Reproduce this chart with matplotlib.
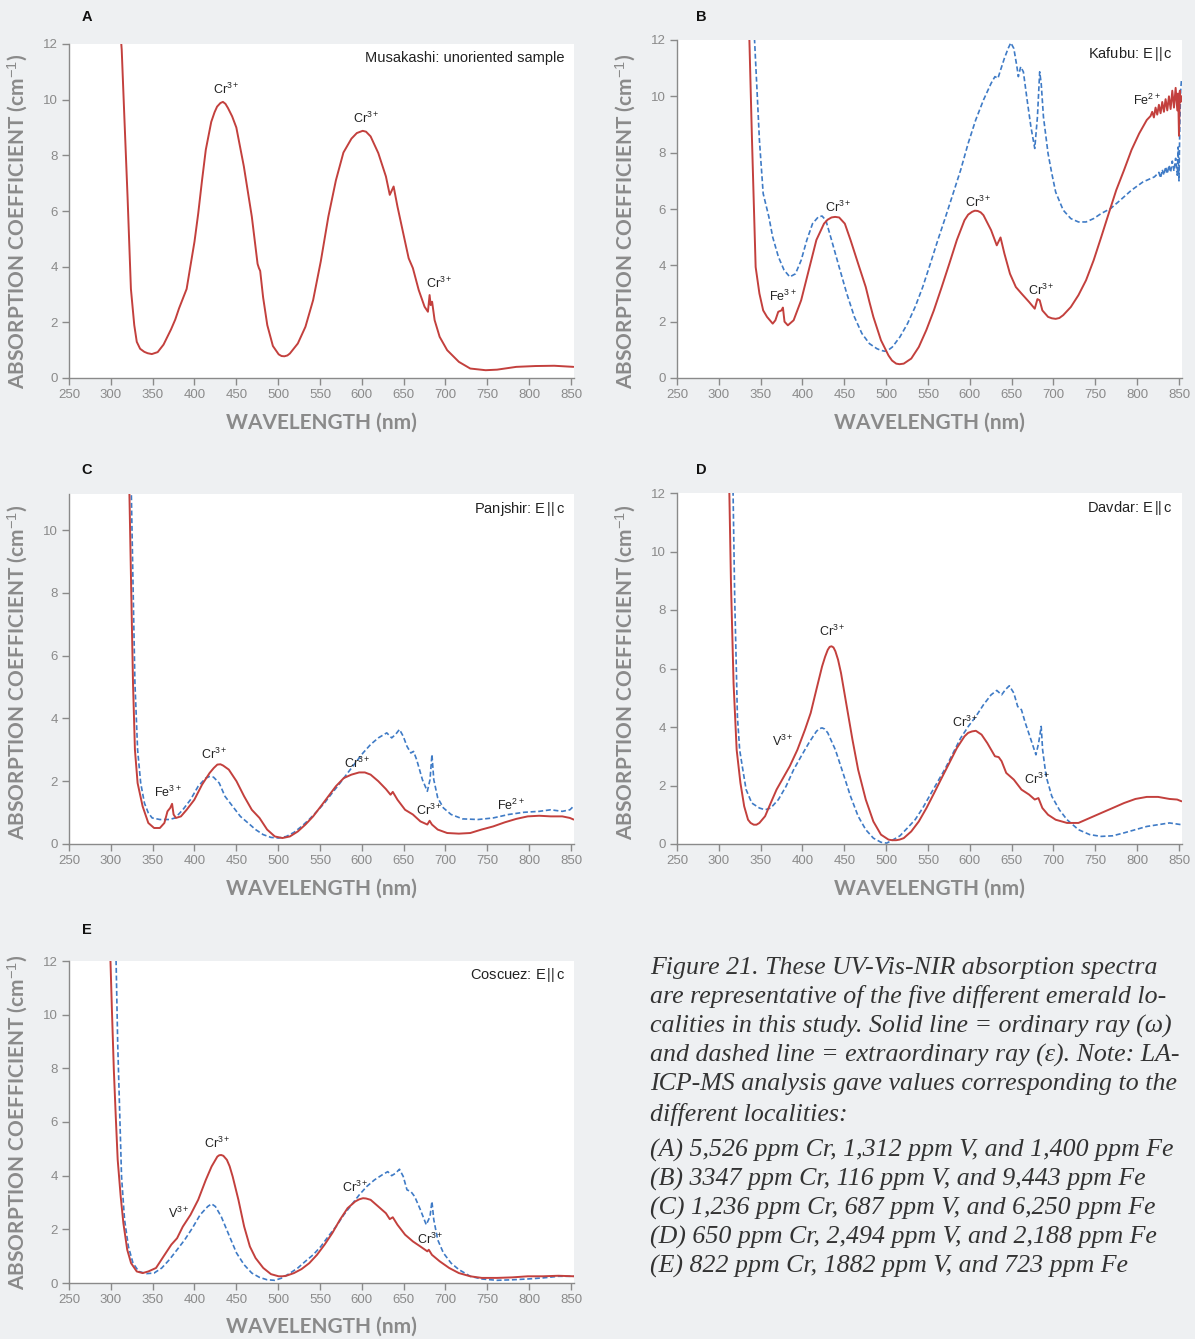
import matplotlib
matplotlib.use("Agg")
import matplotlib.pyplot as plt

# ---- data (wavelength nm, absorption coefficient cm-1) ----
# A  Musakashi (unoriented, single solid trace)
a_wl = [311, 313, 316, 320, 324, 328, 331, 335, 340, 344, 349, 356, 363, 372, 377, 381.5, 390.6, 395,
        400, 404.4, 409, 413.5, 420, 424, 427, 431, 434, 437, 440, 445, 450, 459, 468.5, 475.4, 477,
        478.5, 482, 487, 493.7, 500.6, 504, 507.4, 511, 514, 523.5, 532.6, 541.8, 551, 560, 569, 578,
        587.6, 594, 601, 605, 610.5, 619.7, 628.8, 633.4, 638, 642.6, 649.5, 656, 661, 668, 675, 679,
        681, 682.3, 684, 687, 693, 702, 716, 729.6, 748, 761.7, 784.6, 807.5, 830, 853]
a_red = [12.6, 11.8, 9.5, 6.5, 3.2, 1.9, 1.3, 1.05, 0.94, 0.89, 0.86, 0.93, 1.2, 1.75, 2.1, 2.5, 3.2, 4.0,
         4.9, 5.9, 7.1, 8.2, 9.2, 9.55, 9.75, 9.88, 9.92, 9.85, 9.7, 9.4, 9.0, 7.6, 5.8, 4.1, 3.95,
         3.85, 2.9, 1.9, 1.15, 0.85, 0.79, 0.78, 0.81, 0.88, 1.24, 1.84, 2.8, 4.2, 5.8, 7.1, 8.1,
         8.6, 8.8, 8.88, 8.85, 8.68, 8.08, 7.24, 6.58, 6.88, 6.16, 5.2, 4.3, 3.95, 3.16, 2.56, 2.38,
         2.98, 2.62, 2.74, 2.08, 1.48, 1.0, 0.58, 0.34, 0.28, 0.3, 0.4, 0.43, 0.44, 0.4]

# B  Kafubu
b_red_wl = [336, 339.4, 341.7, 344, 348.5, 353, 357.6, 364.4, 367.6, 371, 374.8, 376.6, 378.5, 382.5,
            389.4, 398.4, 407.5, 416.6, 425.7, 430, 434.7, 439, 443.8, 450.6, 457.4, 466.5, 475.6, 480,
            484.7, 493.8, 502.8, 507, 512, 516, 521, 530, 539, 548, 557, 566.4, 575.5, 584.5, 593.6,
            598, 602.7, 606, 609.5, 613, 616.3, 625.4, 632.2, 636.7, 641.3, 648, 655, 661.7, 670.8,
            677.6, 680.8, 683.5, 686.7, 693.5, 698, 702.6, 707, 711.6, 720.7, 729.8, 738.9, 748, 757,
            766, 775, 784.3, 793.3, 802.4, 811.5,
            816, 818, 820, 822, 824, 826, 828, 830, 832, 834, 836, 838, 840, 842, 844, 846, 848, 849,
            850, 851, 852, 853]
b_red = [12.6, 8.7, 6.3, 3.94, 3.0, 2.4, 2.17, 1.93, 2.05, 2.35, 2.4, 2.5, 2.0, 1.87,
         2.05, 2.76, 3.83, 4.9, 5.48, 5.62, 5.7, 5.72, 5.7, 5.48, 4.9, 4.06, 3.23, 2.7,
         2.17, 1.34, 0.8, 0.62, 0.51, 0.49, 0.51, 0.69, 1.1, 1.7, 2.4, 3.23, 4.06, 4.9, 5.6,
         5.8, 5.9, 5.94, 5.93, 5.88, 5.78, 5.25, 4.71, 4.99, 4.42, 3.7, 3.23, 3.0, 2.7,
         2.46, 2.8, 2.76, 2.4, 2.17, 2.12, 2.1, 2.13, 2.23, 2.52, 2.94, 3.47, 4.18, 5.0,
         5.84, 6.67, 7.38, 8.1, 8.68, 9.16,
         9.3, 9.45, 9.25, 9.6, 9.35, 9.7, 9.4, 9.8, 9.45, 9.9, 9.5, 10.0, 9.55, 10.2, 9.6, 10.3, 9.5, 10.1,
         8.6, 10.2, 9.8, 10.0]
b_blue_wl = [341.7, 346.2, 348.5, 353, 359.8, 364.4, 371.2, 378, 384.8, 391.6, 398.4, 405.2, 412,
             418.9, 423.4, 427.9, 434.7, 443.8, 452.9, 462, 471, 480, 489, 494, 498.3, 503, 507.4, 516.5,
             525.5, 534.6, 543.7, 552.8, 561.8, 571, 580, 589, 598, 607, 616.3, 625.4, 630, 633.6,
             636.7, 641.3, 645.8, 649, 652.6, 656.3, 658, 660.8, 664, 668.5, 673, 677.6, 680.8,
             683.5, 685.3, 688, 693.5, 698, 702.6, 711.6, 720.7, 729.8, 738.9, 748, 757, 768.4,
             779.7, 793.3, 806.9, 820.6, 826, 828, 830, 832, 834, 836, 838, 840, 842, 844, 846, 848,
             849, 850, 851, 852, 853]
b_blue = [12.6, 9.87, 8.45, 6.55, 5.72, 5.0, 4.3, 3.83, 3.59, 3.7, 4.18, 4.9, 5.48,
          5.72, 5.75, 5.6, 4.9, 3.94, 3.0, 2.17, 1.58, 1.22, 1.04, 0.98, 0.95, 1.0, 1.1, 1.46,
          1.93, 2.52, 3.23, 4.06, 4.9, 5.72, 6.55, 7.38, 8.33, 9.16, 9.87, 10.46, 10.7, 10.64,
          10.93, 11.35, 11.7, 11.9, 11.7, 11.05, 10.7, 11.05, 10.87, 9.87, 8.92, 8.15, 9.27,
          10.87, 10.46, 9.27, 7.97, 7.26, 6.6, 5.96, 5.66, 5.54, 5.54, 5.66, 5.84, 6.02,
          6.31, 6.67, 6.96, 7.14, 7.3, 7.1, 7.4, 7.2, 7.5, 7.25, 7.55, 7.3, 7.7, 7.35, 7.8, 7.2,
          8.2, 7.0, 9.0, 10.2, 10.6]

# C  Panjshir
c_red_wl = [321.9, 324.2, 326.5, 328.8, 332, 338, 344.8, 351.7, 358.6, 364, 367.7, 371, 373.2, 375,
            377.8, 383.8, 390.6, 399.8, 409, 418, 423, 427.3, 431, 434.2, 441, 450.2, 459.3, 468.5,
            477.7, 486.8, 496, 505, 514, 523.5, 532.6, 541.8, 551, 560, 569, 578.4, 587.6, 596.8,
            603.6, 610.5, 619.7, 628.8, 634.3, 637, 642.6, 651.7, 661, 670, 678.3, 681, 683.8, 690.7,
            702, 716, 729.6, 743, 757, 770.8, 784.6, 798.3, 812, 825.8, 839.6, 848.7, 853]
c_red = [11.6, 8.32, 5.13, 3.0, 1.94, 1.2, 0.67, 0.51, 0.51, 0.67, 1.04, 1.15, 1.28, 0.94,
         0.83, 0.88, 1.09, 1.41, 1.89, 2.26, 2.42, 2.53, 2.54, 2.5, 2.37, 2.0, 1.52, 1.09,
         0.83, 0.46, 0.24, 0.19, 0.24, 0.4, 0.62, 0.88, 1.2, 1.52, 1.84, 2.1, 2.21, 2.28,
         2.28, 2.21, 2.0, 1.75, 1.57, 1.66, 1.41, 1.09, 0.94, 0.72, 0.62, 0.74, 0.62, 0.46,
         0.35, 0.33, 0.35, 0.46, 0.56, 0.69, 0.8, 0.88, 0.9, 0.88, 0.88, 0.83, 0.78]
c_blue_wl = [324.2, 326.5, 328.8, 332, 335.7, 340.2, 344.8, 349.4, 358.6, 370, 376.9, 386, 395.2,
             404.4, 413.5, 418, 422.7, 429.6, 436.4, 445.6, 454.8, 464, 473, 482, 491.4, 500.6, 509.7,
             518.9, 528, 537, 546.4, 555.5, 564.7, 573.9, 583, 592.2, 601.4, 610.5, 619.7, 629.8,
             635.7, 640.3, 645, 649.5, 654, 658.6, 661.8, 665.5, 672.4, 678.3, 681.5, 683.8, 686,
             690.7, 697.5, 706.7, 720.5, 738.8, 757, 775.4, 793.7, 812, 825.8, 839.6, 848.7, 853]
c_blue = [11.6, 8.32, 5.13, 3.0, 1.94, 1.3, 0.99, 0.83, 0.78, 0.78, 0.83, 1.09, 1.41,
          1.84, 2.1, 2.15, 2.13, 1.94, 1.52, 1.2, 0.88, 0.67, 0.46, 0.3, 0.21, 0.19, 0.24,
          0.37, 0.56, 0.78, 1.04, 1.31, 1.63, 1.94, 2.26, 2.58, 2.9, 3.17, 3.38, 3.54,
          3.38, 3.49, 3.65, 3.43, 3.11, 2.9, 2.95, 2.69, 2.05, 1.68, 2.05, 2.85, 2.05,
          1.47, 1.15, 0.94, 0.8, 0.78, 0.83, 0.94, 1.01, 1.04, 1.09, 1.04, 1.09, 1.2]

# D  Davdar
d_red_wl = [312.2, 314.5, 317.6, 321.3, 325.8, 330.3, 334.9, 338, 341.7, 345, 348.5, 355.3, 362, 369,
            375.7, 384.8, 393.9, 403, 409.8, 416.6, 423.4, 427, 430.2, 432.5, 434.7, 437, 439.3,
            442.5, 446, 452.9, 459.7, 466.5, 475.6, 484.7, 493.8, 502.8, 507, 512, 516, 521, 530, 539,
            548.2, 557.3, 566.4, 575.5, 584.5, 593.6, 598, 602.7, 607.2, 614, 620.9, 630, 634.5, 638,
            643.5, 652.6, 661.7, 670.8, 677.6, 682, 686.7, 693.5, 702.6, 716.2, 729.8, 743.4, 757,
            770.7, 784.3, 797.9, 811.5, 825, 838.7, 847.8, 853]
d_red = [12.6, 8.92, 5.5, 3.22, 2.09, 1.29, 0.83, 0.72, 0.66, 0.66, 0.72, 0.95, 1.4, 1.86,
         2.2, 2.66, 3.22, 3.91, 4.48, 5.28, 6.07, 6.4, 6.64, 6.74, 6.76, 6.72, 6.59,
         6.3, 5.85, 4.7, 3.57, 2.54, 1.52, 0.77, 0.32, 0.15, 0.13, 0.13, 0.15, 0.2, 0.43, 0.77,
         1.23, 1.74, 2.26, 2.77, 3.28, 3.68, 3.8, 3.85, 3.87, 3.74, 3.45, 3.0, 2.97, 2.83,
         2.43, 2.2, 1.86, 1.69, 1.52, 1.57, 1.23, 1.0, 0.83, 0.72, 0.72, 0.89, 1.06,
         1.23, 1.4, 1.54, 1.61, 1.61, 1.54, 1.52, 1.46]
d_blue_wl = [316.7, 319, 320.4, 322.2, 324.9, 328, 332.6, 339.4, 348.5, 355.3, 362, 371.2, 380.3,
             389.4, 398.4, 407.5, 416.6, 420, 423.4, 426.5, 430.2, 439.3, 448.4, 457.4, 466.5, 475.6,
             484.7, 493.8, 500.6, 507.4, 516.5, 525.5, 534.6, 543.7, 552.8, 561.8, 571, 580, 589,
             598.2, 607.2, 616.3, 625.4, 632.2, 638, 642.6, 647.2, 652.6, 657.2, 661.7, 666.3, 673,
             679, 682.2, 685.3, 687, 691.2, 698, 707, 716.2, 729.8, 743.4, 757, 770.7, 784.3, 797.9,
             811.5, 825, 838.7, 853]
d_blue = [12.6, 8.35, 6.64, 4.36, 3.22, 2.66, 1.86, 1.4, 1.23, 1.17, 1.23, 1.52, 1.97,
          2.54, 3.0, 3.45, 3.85, 3.94, 3.97, 3.93, 3.8, 3.22, 2.43, 1.63, 0.95, 0.49,
          0.2, 0.06, 0.03, 0.13, 0.28, 0.55, 0.83, 1.23, 1.69, 2.14, 2.6, 3.11, 3.62,
          4.02, 4.36, 4.76, 5.1, 5.25, 5.1, 5.28, 5.41, 5.16, 4.7, 4.59, 4.14, 3.57,
          3.05, 3.45, 4.02, 3.22, 2.31, 1.63, 1.17, 0.83, 0.49, 0.32, 0.26, 0.28, 0.38, 0.49,
          0.6, 0.66, 0.72, 0.66]

# E  Coscuez
e_red_wl = [299, 301.3, 303.6, 305.9, 308.2, 311.8, 315, 319.6, 324.2, 331, 338, 344.8, 354, 363,
            372.3, 379.2, 386, 395.2, 404.4, 413.5, 420.4, 427.3, 429.5, 431.9, 434.5, 438.7, 442,
            445.6, 452.5, 459.3, 466.2, 473, 482.2, 491.4, 500.6, 505, 509.7, 518.9, 528, 537.2,
            546.4, 555.5, 564.7, 573.9, 583, 592.2, 597, 601.4, 605, 610.5, 619.7, 628.8, 633.4, 637,
            642.6, 651.7, 661, 670, 678.3, 680, 683.8, 693, 704.4, 716, 729.6, 743.4, 761.7, 780,
            798.3, 816.7, 835, 853.3]
e_red = [12.6, 10.17, 7.93, 6.2, 4.59, 3.22, 2.23, 1.24, 0.74, 0.43, 0.37, 0.43, 0.56, 0.99,
         1.43, 1.67, 2.1, 2.54, 3.1, 3.84, 4.34, 4.71, 4.76, 4.77, 4.74, 4.59, 4.35,
         3.97, 3.1, 2.11, 1.36, 0.93, 0.56, 0.33, 0.25, 0.25, 0.27, 0.37, 0.52, 0.74,
         1.05, 1.43, 1.86, 2.36, 2.79, 3.04, 3.12, 3.16, 3.15, 3.1, 2.85, 2.6, 2.38, 2.45,
         2.17, 1.8, 1.55, 1.36, 1.18, 1.24, 1.05, 0.81, 0.56, 0.37, 0.25, 0.19, 0.19, 0.21,
         0.25, 0.25, 0.27, 0.25]
e_blue_wl = [305.9, 308.2, 310.5, 312.8, 316.4, 321, 326.5, 333.4, 342.5, 351.7, 360.9, 370, 379.2,
             388.3, 397.5, 406.7, 415.8, 420.4, 425, 431.9, 441, 450.2, 459.3, 468.5, 477.7, 486.8,
             496, 505, 514.3, 523.5, 532.6, 541.8, 551, 560, 569.3, 578.4, 587.6, 596.8, 606, 615,
             624.3, 631, 635.7, 640.3, 645, 649.5, 654, 658.6, 663.2, 670, 677, 681.5, 683.8, 686,
             690.7, 697.5, 706.7, 716, 729.6, 743.4, 761.7, 780, 798.3, 816.7, 835, 853.3]
e_blue = [12.6, 8.93, 6.45, 3.97, 2.36, 1.36, 0.74, 0.43, 0.35, 0.37, 0.56, 0.87, 1.24,
          1.61, 2.05, 2.54, 2.85, 2.95, 2.85, 2.48, 1.8, 1.12, 0.68, 0.37, 0.21, 0.12,
          0.1, 0.19, 0.37, 0.56, 0.81, 1.05, 1.36, 1.74, 2.11, 2.54, 2.91, 3.28, 3.6, 3.84,
          4.03, 4.15, 4.0, 4.09, 4.24, 3.97, 3.47, 3.41, 3.22, 2.73, 2.17, 2.48, 3.04, 2.36,
          1.61, 1.12, 0.74, 0.5, 0.25, 0.15, 0.1, 0.12, 0.15, 0.19, 0.25, 0.25]

# peak labels: (text, wavelength, value)
CR = "Cr$^{3+}$"
FE3 = "Fe$^{3+}$"
FE2 = "Fe$^{2+}$"
V3 = "V$^{3+}$"
a_notes = [(CR, 438, 10.36), (CR, 605, 9.34), (CR, 692, 3.4)]
b_notes = [(CR, 443, 6.05), (CR, 610, 6.25), (CR, 685, 3.12), (FE3, 376, 2.88), (FE2, 812, 9.87)]
c_notes = [(CR, 423, 2.85), (FE3, 368, 1.63), (CR, 594, 2.58), (CR, 680, 1.06), (FE2, 778, 1.22)]
d_notes = [(CR, 436, 7.27), (V3, 376, 3.51), (CR, 594, 4.16), (CR, 681, 2.22)]
e_notes = [(CR, 427, 5.2), (V3, 381, 2.6), (CR, 592, 3.56), (CR, 682, 1.64)]

titles = ["Musakashi: unoriented sample", "Kafubu: E$\\,||\\,$c", "Panjshir: E$\\,||\\,$c",
          "Davdar: E$\\,||\\,$c", "Coscuez: E$\\,||\\,$c"]

caption = ["Figure 21. These UV-Vis-NIR absorption spectra",
           "are representative of the five different emerald lo-",
           "calities in this study. Solid line = ordinary ray (\u03c9)",
           "and dashed line = extraordinary ray (\u03b5). Note: LA-",
           "ICP-MS analysis gave values corresponding to the",
           "different localities:",
           "(A) 5,526 ppm Cr, 1,312 ppm V, and 1,400 ppm Fe",
           "(B) 3347 ppm Cr, 116 ppm V, and 9,443 ppm Fe",
           "(C) 1,236 ppm Cr, 687 ppm V, and 6,250 ppm Fe",
           "(D) 650 ppm Cr, 2,494 ppm V, and 2,188 ppm Fe",
           "(E) 822 ppm Cr, 1882 ppm V, and 723 ppm Fe"]

RED = "#c3403d"
BLUE = "#3f7bc6"
GREY = "#8a8a8a"
BG = "#eef0f2"
W, H = 1195, 1339

plt.rcParams['font.family'] = ['Liberation Sans', 'DejaVu Sans']
plt.rcParams['mathtext.fontset'] = 'custom'
plt.rcParams['mathtext.rm'] = 'Liberation Sans'
plt.rcParams['mathtext.it'] = 'Liberation Sans'

fig = plt.figure(figsize=(W / 100, H / 100), dpi=100, facecolor=BG)


def make_ax(x0, top, bottom, ytop):
    ax = fig.add_axes([x0 / W, 1 - bottom / H, 505 / W, (bottom - top) / H])
    ax.set_facecolor("white")
    ax.set_xlim(250, 853.6)
    ax.set_ylim(0, ytop)
    ax.set_xticks(range(250, 851, 50))
    ax.set_yticks(range(0, 13, 2) if ytop >= 12 else range(0, 11, 2))
    for s in ["top", "right"]:
        ax.spines[s].set_visible(False)
    for s in ["left", "bottom"]:
        ax.spines[s].set_color(GREY)
        ax.spines[s].set_linewidth(1.0)
    ax.tick_params(colors=GREY, labelcolor=GREY, labelsize=9.5, length=5, width=1.0, pad=3)
    return ax


def draw(ax, wl, val, dashed=False):
    if dashed:
        ax.plot(wl, val, color=BLUE, lw=1.2, ls=(0, (3, 1.6)), solid_joinstyle="round")
    else:
        ax.plot(wl, val, color=RED, lw=1.4, solid_joinstyle="round", solid_capstyle="round")


def panel(ax, letter, lx, ly, title, notes, xl_y, yl_x, yl_y):
    b = ax.get_position()
    ax.text(0.982, 0.958, title, transform=ax.transAxes, ha="right", va="center",
            fontsize=10.5, color="#222222")
    for t, x, y in notes:
        ax.text(x, y, t, ha="center", va="center", fontsize=9, color="#222222")
    fig.text(lx / W, 1 - ly / H, letter, ha="center", va="center", fontsize=10.5,
             fontweight="bold", color="#111111")
    fig.text(b.x0 + b.width / 2, 1 - xl_y / H, "WAVELENGTH (nm)",
             ha="center", va="center", fontsize=15, fontweight="bold", color=GREY, family="Lato")
    fig.text(yl_x / W, 1 - yl_y / H, "ABSORPTION COEFFICIENT (cm$^{-1}$)", rotation=90,
             ha="center", va="center", fontsize=15, fontweight="bold", color=GREY, family="Lato")


axA = make_ax(69, 44, 378, 12)
draw(axA, a_wl, a_red)
panel(axA, "A", 87, 17, titles[0], a_notes, 423, 18, 221)

axB = make_ax(677, 40, 378, 12)
draw(axB, b_blue_wl, b_blue, dashed=True)
draw(axB, b_red_wl, b_red)
panel(axB, "B", 701, 17, titles[1], b_notes, 423, 626, 221)

axC = make_ax(69, 494, 844, 11.15)
draw(axC, c_blue_wl, c_blue, dashed=True)
draw(axC, c_red_wl, c_red)
panel(axC, "C", 87, 470, titles[2], c_notes, 889, 18, 672)

axD = make_ax(677, 493, 844, 12)
draw(axD, d_blue_wl, d_blue, dashed=True)
draw(axD, d_red_wl, d_red)
panel(axD, "D", 701, 470, titles[3], d_notes, 889, 626, 672)

axE = make_ax(69, 961, 1283, 12)
draw(axE, e_blue_wl, e_blue, dashed=True)
draw(axE, e_red_wl, e_red)
panel(axE, "E", 87, 930, titles[4], e_notes, 1327, 18, 1122)

line_y = [968, 997, 1026, 1055, 1084, 1114, 1150, 1179, 1208, 1237, 1266]
for t, y in zip(caption, line_y):
    fig.text(650 / W, 1 - y / H, t, ha="left", va="center", fontsize=18.6,
             style="italic", color="#333333", family="Liberation Serif")

fig.savefig("out.png", dpi=100, facecolor=BG)
